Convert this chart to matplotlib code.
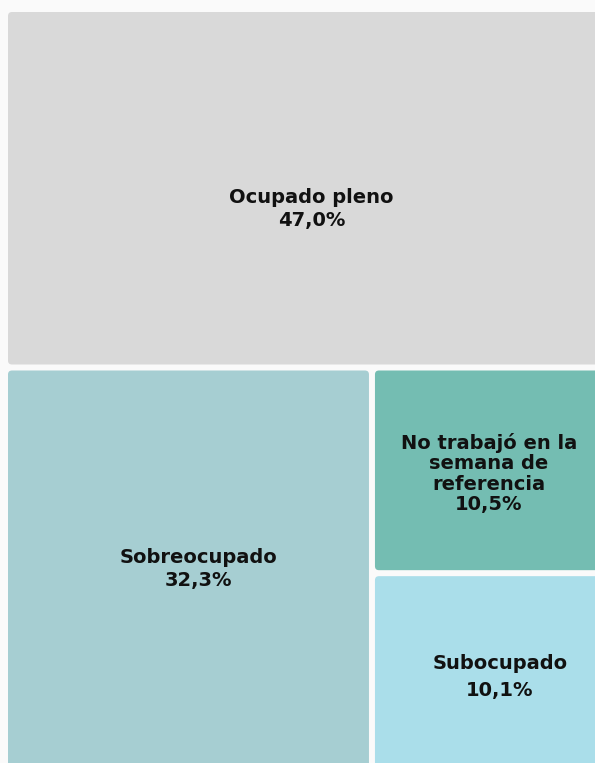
import matplotlib.pyplot as plt
from matplotlib.patches import FancyBboxPatch

# data
categories = ['Ocupado pleno', 'Sobreocupado', 'No trabajó en la\nsemana de\nreferencia', 'Subocupado']
values = [47.0, 32.3, 10.5, 10.1]
colors = ['#d9d9d9', '#a6ced2', '#74bdb2', '#aadeea']
# small nudges of the labels (pixels) and line spacing per label
label_dx = [6, 10, 0, 11]
label_dy = [20.5, 0, 3, 4.5]
label_ls = [1.28, 1.26, 1.1, 1.53]

# treemap area in pixel coords (part of it falls off the canvas, as in the original)
X0, Y0, W, H = 5, 9, 601, 762
GAP = 3


def layout(vals):
    # top row for the biggest, then left column, then the two small ones stacked
    total = sum(vals)
    h_top = H * vals[0] / total
    cells = [(X0, Y0, W, h_top)]
    rest = sum(vals[1:])
    y1 = Y0 + h_top
    h_bot = H - h_top
    w_left = W * vals[1] / rest
    cells.append((X0, y1, w_left, h_bot))
    small = vals[2] + vals[3]
    h_a = h_bot * vals[2] / small
    cells.append((X0 + w_left, y1, W - w_left, h_a))
    cells.append((X0 + w_left, y1 + h_a, W - w_left, h_bot - h_a))
    return cells


fig = plt.figure(figsize=(5.95, 7.63), dpi=100)
fig.patch.set_facecolor('#fafafa')
ax = fig.add_axes([0, 0, 1, 1])
ax.set_xlim(0, 595)
ax.set_ylim(763, 0)
ax.axis('off')

for i, (x, y, w, h) in enumerate(layout(values)):
    r = FancyBboxPatch((x + GAP, y + GAP), w - 2 * GAP, h - 2 * GAP,
                       boxstyle='round,pad=0,rounding_size=4',
                       facecolor=colors[i], edgecolor='none')
    ax.add_patch(r)
    pct = f'{values[i]:.1f}'.replace('.', ',') + '%'
    ax.text(x + w / 2 + label_dx[i], y + h / 2 + label_dy[i], categories[i] + '\n' + pct,
            ha='center', va='center', multialignment='center',
            fontsize=14, fontweight='bold', family='DejaVu Sans',
            color='#111111', linespacing=label_ls[i])

plt.savefig('out.png', dpi=100, facecolor=fig.get_facecolor())
